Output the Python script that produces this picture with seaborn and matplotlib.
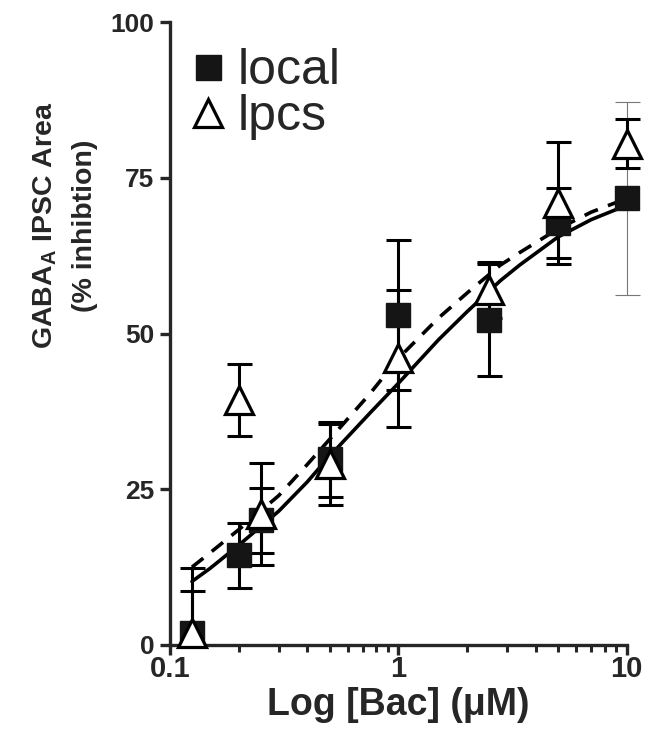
import numpy as np
import pandas as pd
import matplotlib
matplotlib.use("Agg")
import matplotlib.pyplot as plt
import seaborn as sns
from matplotlib.lines import Line2D
from matplotlib.ticker import NullFormatter

# data
conc = [0.125, 0.2, 0.25, 0.5, 1, 2.5, 5, 10]
local_mean = [2.0, 14.4, 20.0, 29.8, 53.0, 52.2, 67.7, 71.7]
local_sem = [10.4, 5.2, 5.2, 6.0, 12.0, 9.0, 5.6, 15.5]
lpcs_mean = [2.0, 39.3, 21.0, 29.0, 46.0, 57.0, 71.0, 80.5]
lpcs_sem = [6.7, 5.8, 8.2, 6.5, 11.0, 4.5, 9.8, 4.0]

# fitted curves
fit_x = [0.125, 0.15, 0.2, 0.3, 0.4, 0.5, 0.75, 1, 1.5, 2, 2.8, 3.4, 5, 7, 10]
fit_local = [10.2, 12.3, 16.0, 21.5, 26.2, 30.3, 37.2, 42.0, 49.0, 53.5, 58.5, 61.0, 65.5, 68.3, 70.6]
fit_lpcs = [12.5, 14.8, 18.5, 24.0, 29.0, 33.0, 40.3, 46.0, 52.5, 56.5, 61.0, 63.0, 66.8, 69.5, 71.7]

sns.set_style("ticks")
plt.rcParams["font.family"] = ["Liberation Sans", "DejaVu Sans"]
plt.rcParams["mathtext.fontset"] = "custom"
plt.rcParams["mathtext.rm"] = "Liberation Sans:bold"
plt.rcParams["mathtext.bf"] = "Liberation Sans:bold"

fig = plt.figure(figsize=(6.66, 7.55), dpi=100)
ax = fig.add_axes([0.255, 0.1457, 0.686, 0.825])

df_fit = pd.DataFrame({"x": fit_x + fit_x,
                       "y": fit_local + fit_lpcs,
                       "grupo": ["local"] * len(fit_x) + ["lpcs"] * len(fit_x)})
sns.lineplot(data=df_fit[df_fit.grupo == "local"], x="x", y="y", ax=ax,
             color="black", lw=2.6, legend=False)
sns.lineplot(data=df_fit[df_fit.grupo == "lpcs"], x="x", y="y", ax=ax,
             color="black", lw=2.6, legend=False, linestyle=(0, (4, 3)))

# lower bars stop at the x axis
local_err = [[min(s, m) for s, m in zip(local_sem, local_mean)], local_sem]
lpcs_err = [[min(s, m) for s, m in zip(lpcs_sem, lpcs_mean)], lpcs_sem]

# error bars (last local bar is thin/grey in the original)
ax.errorbar(conc[:-1], local_mean[:-1], yerr=[local_err[0][:-1], local_err[1][:-1]],
            fmt="none", ecolor="black", elinewidth=2.2, capsize=9, capthick=2.2,
            clip_on=False, zorder=3)
ax.errorbar(conc[-1:], local_mean[-1:], yerr=local_sem[-1:], fmt="none",
            ecolor="#777777", elinewidth=0.8, capsize=9, capthick=0.8,
            clip_on=False, zorder=3)
ax.errorbar(conc, lpcs_mean, yerr=lpcs_err, fmt="none",
            ecolor="black", elinewidth=2.2, capsize=9, capthick=2.2,
            clip_on=False, zorder=3)

ax.plot(conc, local_mean, ls="none", marker="s", ms=17.5, mfc="#151515",
        mec="#151515", clip_on=False, zorder=4)
ax.plot(conc, lpcs_mean, ls="none", marker="^", ms=20, mfc="white",
        mec="black", mew=2.3, clip_on=False, zorder=5)

ax.set_xscale("log")
ax.set_xlim(0.1, 10)
ax.set_ylim(0, 100)
ax.set_xticks([0.1, 1, 10])
ax.set_xticklabels(["0.1", "1", "10"])
ax.xaxis.set_minor_formatter(NullFormatter())
ax.set_yticks([0, 25, 50, 75, 100])

for s in ["top", "right"]:
    ax.spines[s].set_visible(False)
for s in ["left", "bottom"]:
    ax.spines[s].set_linewidth(2.4)

ax.tick_params(axis="both", which="major", direction="out", width=2.4, length=7)
ax.tick_params(axis="x", which="minor", direction="out", width=2.2, length=5)
ax.tick_params(axis="x", which="major", labelsize=21, pad=0)
ax.tick_params(axis="y", which="major", labelsize=19, pad=4)
for lab in ax.get_xticklabels() + ax.get_yticklabels():
    lab.set_fontweight("bold")

ax.set_xlabel("Log [Bac] (\u03bcM)", fontsize=27, fontweight="bold", labelpad=3)
ax.set_ylabel("GABA$_\\mathregular{A}$ IPSC Area\n(% inhibtion)", fontsize=20.5,
              fontweight="bold", linespacing=1.65)
ax.yaxis.set_label_coords(-0.158, 0.673)

handles = [Line2D([], [], ls="none", marker="s", ms=18, mfc="#151515", mec="#151515"),
           Line2D([], [], ls="none", marker="^", ms=20, mfc="white", mec="black", mew=2.3)]
ax.legend(handles, ["local", "lpcs"], loc="upper left", bbox_to_anchor=(-0.004, 0.99),
          frameon=False, fontsize=36, handlelength=0.8, handletextpad=0.2,
          labelspacing=0.0, borderaxespad=0)

plt.savefig("out.png", dpi=100)
